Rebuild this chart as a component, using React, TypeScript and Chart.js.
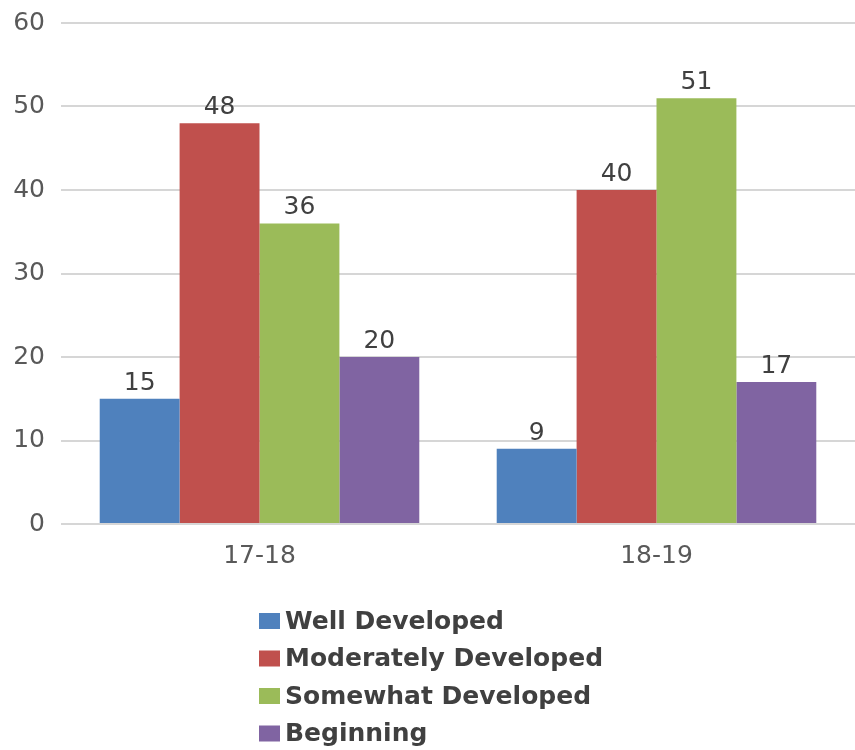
import React, { useEffect, useRef } from "react";
import { Chart, registerables } from "chart.js";

Chart.register(...registerables);

const categories = ["17-18", "18-19"];
const seriesNames = ["Well Developed", "Moderately Developed", "Somewhat Developed", "Beginning"];
const wellDeveloped = [15, 9];
const moderatelyDeveloped = [48, 40];
const somewhatDeveloped = [36, 51];
const beginning = [20, 17];
const seriesColors = ["#4F81BD", "#C0504D", "#9BBB59", "#8064A2"];

const FONT = "'DejaVu Sans', sans-serif";
const TEXT = "#595959";

const valueLabels = {
  id: "valueLabels",
  afterDatasetsDraw(chart: any) {
    const ctx = chart.ctx;
    ctx.save();
    ctx.font = `25px ${FONT}`;
    ctx.fillStyle = "#404040";
    ctx.textAlign = "center";
    ctx.textBaseline = "bottom";
    chart.data.datasets.forEach((ds: any, i: number) => {
      const meta = chart.getDatasetMeta(i);
      meta.data.forEach((bar: any, j: number) => {
        ctx.fillText(String(ds.data[j]), bar.x, bar.y - 3);
      });
    });
    ctx.restore();
  },
};

const listLegend = {
  id: "listLegend",
  afterDraw(chart: any) {
    const ctx = chart.ctx;
    ctx.save();
    ctx.font = `bold 25px ${FONT}`;
    ctx.textBaseline = "middle";
    ctx.textAlign = "left";
    const x0 = 259;
    const y0 = 621;
    const step = 37.5;
    chart.data.datasets.forEach((ds: any, i: number) => {
      const y = y0 + i * step;
      ctx.fillStyle = ds.backgroundColor;
      ctx.fillRect(x0, y - 8, 21, 16);
      ctx.fillStyle = "#404040";
      ctx.fillText(ds.label, x0 + 26, y + 1);
    });
    ctx.restore();
  },
};

export default function App() {
  const ref = useRef<HTMLCanvasElement>(null);
  useEffect(() => {
    if (!ref.current) return;
    const values = [wellDeveloped, moderatelyDeveloped, somewhatDeveloped, beginning];
    const chart = new Chart(ref.current, {
      type: "bar",
      data: {
        labels: categories,
        datasets: seriesNames.map((name, i) => ({
          label: name,
          data: values[i],
          backgroundColor: seriesColors[i],
          borderWidth: 0,
          categoryPercentage: 0.805,
          barPercentage: 1,
        })),
      },
      options: {
        animation: false,
        responsive: false,
        layout: { padding: { top: 23, right: 0, left: 0, bottom: 0 } },
        plugins: {
          legend: { display: false },
          tooltip: { enabled: false },
          title: { display: false },
        },
        scales: {
          x: {
            grid: { display: false, drawTicks: false },
            border: { display: false },
            ticks: { font: { family: FONT, size: 25 }, color: TEXT, padding: 17 },
            afterFit(scale: any) {
              scale.height = 226;
              scale.paddingLeft = 0;
              scale.paddingRight = 0;
            },
          },
          y: {
            min: 0,
            max: 60,
            ticks: {
              stepSize: 10,
              font: { family: FONT, size: 25 },
              color: TEXT,
              padding: 16,
            },
            grid: { color: "#d6d6d6", lineWidth: 2, drawTicks: false },
            border: { display: false },
            afterFit(scale: any) {
              scale.width = 61;
              scale.paddingTop = 0;
              scale.paddingBottom = 0;
            },
          },
        },
      },
      plugins: [valueLabels, listLegend],
    });
    return () => chart.destroy();
  }, []);
  return (
    <div style={{ position: "absolute", left: 0, top: 0, width: 855, height: 750, background: "#fff" }}>
      <canvas ref={ref} width={855} height={750} style={{ width: 855, height: 750 }} />
    </div>
  );
}
